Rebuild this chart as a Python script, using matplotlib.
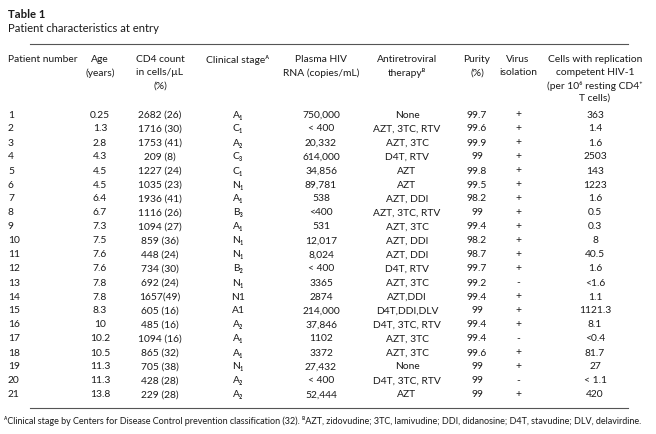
import matplotlib
matplotlib.use("Agg")
import matplotlib.pyplot as plt
from matplotlib.lines import Line2D

# ── Table content ────────────────────────────────────────────────────────────
patient = [str(i) for i in range(1, 22)]
age = ["0.25", "1.3", "2.8", "4.3", "4.5", "4.5", "6.4", "6.7", "7.3", "7.5", "7.6",
       "7.6", "7.8", "7.8", "8.3", "10", "10.2", "10.5", "11.3", "11.3", "13.8"]
cd4 = ["2682 (26)", "1716 (30)", "1753 (41)", "209 (8)", "1227 (24)", "1035 (23)",
       "1936 (41)", "1116 (26)", "1094 (27)", "859 (36)", "448 (24)", "734 (30)",
       "692 (24)", "1657(49)", "605 (16)", "485 (16)", "1094 (16)", "865 (32)",
       "705 (38)", "428 (28)", "229 (28)"]
stage = ["A₁", "C₁", "A₂", "C₃", "C₁", "N₁", "A₁", "B₃", "A₁", "N₁", "N₁", "B₂",
         "N₁", "N1", "A1", "A₂", "A₁", "A₁", "N₁", "A₂", "A₂"]
rna = ["750,000", "< 400", "20,332", "614,000", "34,856", "89,781", "538", "<400",
       "531", "12,017", "8,024", "< 400", "3365", "2874", "214,000", "37,846",
       "1102", "3372", "27,432", "< 400", "52,444"]
therapy = ["None", "AZT, 3TC, RTV", "AZT, 3TC", "D4T, RTV", "AZT", "AZT", "AZT, DDI",
           "AZT, 3TC, RTV", "AZT, 3TC", "AZT, DDI", "AZT, DDI", "D4T, RTV", "AZT, 3TC",
           "AZT,DDI", "D4T,DDI,DLV", "D4T, 3TC, RTV", "AZT, 3TC", "AZT, 3TC", "None",
           "D4T, 3TC, RTV", "AZT"]
purity = ["99.7", "99.6", "99.9", "99", "99.8", "99.5", "98.2", "99", "99.4", "98.2",
          "98.7", "99.7", "99.2", "99.4", "99", "99.4", "99.4", "99.6", "99", "99", "99"]
isolation = ["+", "+", "+", "+", "+", "+", "+", "+", "+", "+", "+", "+", "-", "+", "+",
             "+", "-", "+", "+", "-", "+"]
cells = ["363", "1.4", "1.6", "2503", "143", "1223", "1.6", "0.5", "0.3", "8", "40.5",
         "1.6", "<1.6", "1.1", "1121.3", "8.1", "<0.4", "81.7", "27", "< 1.1", "420"]

headers = [
    ["Patient number"],
    ["Age", "(years)"],
    ["CD4 count", "in cells/µL", "(%)"],
    ["Clinical stageᴬ"],
    ["Plasma HIV", "RNA (copies/mL)"],
    ["Antiretroviral", "therapyᴮ"],
    ["Purity", "(%)"],
    ["Virus", "isolation"],
    ["Cells with replication", "competent HIV-1", "(per 10⁶ resting CD4⁺", "T cells)"],
]
columns = [patient, age, cd4, stage, rna, therapy, purity, isolation, cells]

title = "Table 1"
subtitle = "Patient characteristics at entry"
footnote = ("ᴬClinical stage by Centers for Disease Control prevention classification (32). "
            "ᴮAZT, zidovudine; 3TC, lamivudine; DDI, didanosine; D4T, stavudine; DLV, delavirdine.")

# ── Layout (pixels) ──────────────────────────────────────────────────────────
W, H = 656, 435
col_x = [8, 100, 160, 238, 321, 407, 477, 518, 595]
col_ha = ["left"] + ["center"] * 8
FAM = ["Lato", "DejaVu Sans"]
INK = "#1a1a1a"

fig = plt.figure(figsize=(W / 100, H / 100), dpi=100, facecolor="white")

def fx(x): return x / W
def fy(y): return 1 - y / H

def put(x, y, s, ha="center", size=7.4, **kw):
    fig.text(fx(x), fy(y), s, ha=ha, va="center", fontsize=size,
             family=FAM, color=INK, **kw)

def rule(y, x0=30, x1=628):
    fig.add_artist(Line2D([fx(x0), fx(x1)], [fy(y), fy(y)], color="#555555", lw=0.8))

put(8, 15, title, ha="left", size=8.2, fontweight="bold")
put(8, 28, subtitle, ha="left", size=8.1)
rule(44.5)

# header block
for x, ha, lines in zip(col_x, col_ha, headers):
    for k, line in enumerate(lines):
        put(x, 60 + k * 12.8, line, ha=ha)

# body rows
y0, dy = 115, 14.0
for x, ha, col in zip(col_x, col_ha, columns):
    for i, s in enumerate(col):
        put(x, y0 + i * dy, s, ha=ha)

rule(409)
put(4, 421.5, footnote, ha="left", size=6.5)

fig.savefig("out.png", dpi=100, facecolor="white")
